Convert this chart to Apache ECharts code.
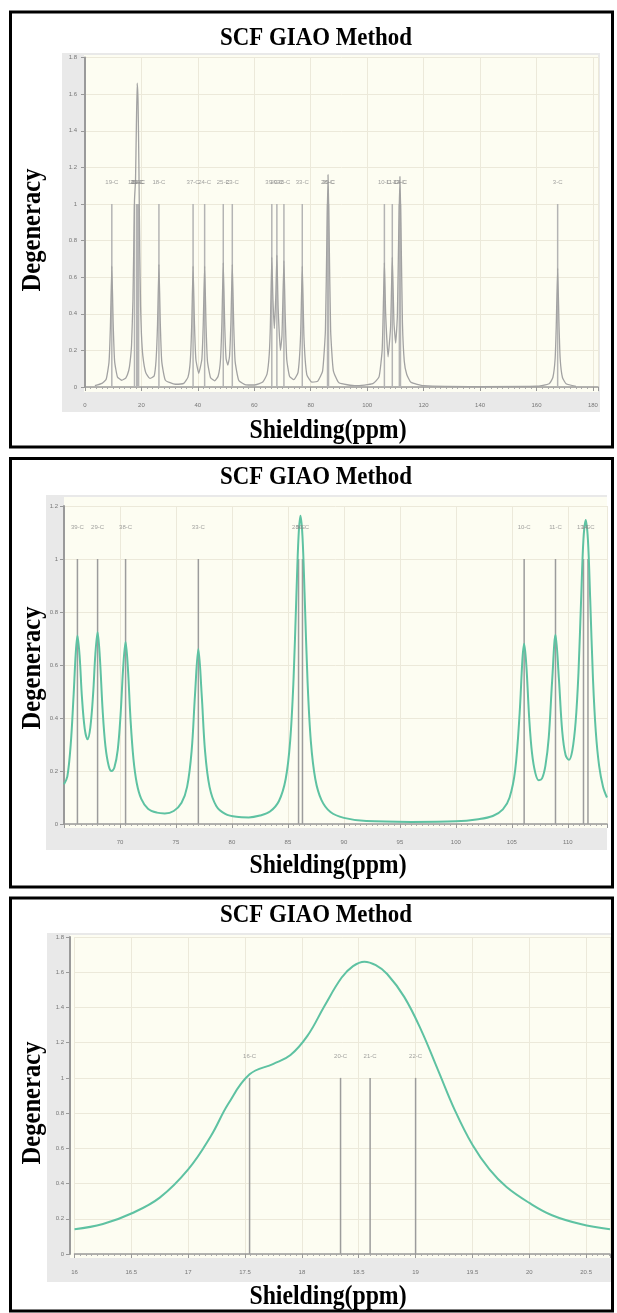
<!DOCTYPE html>
<html>
<head>
<meta charset="utf-8">
<title>SCF GIAO Method</title>
<script src="https://cdn.jsdelivr.net/npm/echarts@6/dist/echarts.min.js"></script>
<style>
  html, body { margin: 0; padding: 0; background: #fff; }
  #chart { width: 617px; height: 1313px; }
</style>
</head>
<body>
<div id="chart"></div>
<script>
// shielding of each carbon (ppm), all with degeneracy 1
const stickPpm = [9.5, 17.54, 18.34, 18.6, 19.0, 26.2, 38.3, 42.4, 49.0, 52.2, 66.2, 68.0, 70.5, 77.0, 85.95, 86.3, 106.1, 108.9, 111.4, 111.8, 167.5];
const stickDeg = [1, 1, 1, 1, 1, 1, 1, 1, 1, 1, 1, 1, 1, 1, 1, 1, 1, 1, 1, 1, 1];
const stickLabels = ["19-C", "16-C", "20-C", "21-C", "22-C", "18-C", "37-C", "24-C", "25-C", "23-C", "39-C", "29-C", "38-C", "33-C", "28-C", "30-C", "10-C", "11-C", "13-C", "14-C", "3-C"];

// broadened spectrum [ppm, degeneracy]
const spectrumFull = [[3.5,.007],[6,.02],[7.5,.042],[8.5,.135],[9,.33],[9.5,.66],[10,.34],[10.5,.14],[11.5,.055],[13,.037],[14.5,.05],[15.5,.09],[16,.14],[16.5,.23],[17,.48],[17.54,1.02],[17.9,1.13],[18.2,1.42],[18.5,1.66],[18.8,1.56],[19.1,1.21],[19.4,.74],[19.7,.44],[20,.29],[20.5,.17],[21.5,.08],[23,.047],[24.5,.06],[25.2,.15],[25.7,.34],[26.2,.67],[26.7,.34],[27.2,.14],[28.5,.037],[32,.015],[35,.02],[36.5,.054],[37.3,.14],[37.8,.33],[38.3,.66],[38.8,.34],[39.3,.15],[40.3,.075],[41.4,.15],[41.9,.34],[42.4,.66],[42.9,.335],[43.4,.14],[44.5,.05],[46,.034],[47.2,.06],[48,.145],[48.5,.345],[49,.68],[49.5,.345],[50,.155],[50.6,.12],[51.2,.165],[51.7,.35],[52.2,.67],[52.7,.34],[53.2,.14],[54.5,.036],[57,.012],[60,.011],[63,.027],[64.5,.07],[65.3,.18],[65.7,.34],[66.2,.71],[66.6,.48],[67.1,.32],[67.6,.49],[68,.72],[68.45,.43],[69.25,.2],[69.8,.28],[70.5,.69],[70.95,.39],[71.5,.15],[72.5,.058],[74,.04],[75.5,.08],[76.4,.28],[77,.66],[77.6,.27],[78.6,.068],[80.4,.027],[82.5,.032],[84.2,.087],[85.2,.31],[85.75,.85],[86.12,1.16],[86.5,.85],[87.05,.31],[88,.09],[90,.023],[96,.007],[102,.018],[104.2,.055],[105.3,.2],[105.7,.42],[106.1,.68],[106.55,.4],[107.4,.165],[108.3,.33],[108.9,.71],[109.5,.35],[110.1,.24],[110.7,.39],[111.2,.86],[111.6,1.15],[112,.85],[112.5,.35],[113.15,.14],[114,.07],[115.5,.026],[120,.007],[140,.002],[160,.004],[164.5,.018],[165.8,.052],[166.6,.153],[167,.33],[167.5,.65],[168,.33],[168.4,.153],[169.2,.052],[170.5,.018],[174,.004]];

const spectrumMid = [[65,.15],[65.3,.18],[65.6,.3],[65.85,.48],[66.05,.645],[66.2,.71],[66.4,.63],[66.6,.48],[66.85,.36],[67.1,.32],[67.35,.364],[67.6,.49],[67.8,.64],[68,.724],[68.2,.63],[68.45,.43],[68.7,.294],[69,.218],[69.25,.2],[69.5,.213],[69.8,.28],[70.05,.41],[70.3,.6],[70.5,.687],[70.7,.593],[70.95,.389],[71.2,.247],[71.5,.154],[71.9,.095],[72.5,.058],[73.3,.043],[74,.04],[74.8,.049],[75.5,.08],[76,.141],[76.4,.276],[76.7,.487],[77,.66],[77.3,.487],[77.6,.274],[78,.14],[78.6,.068],[79.4,.038],[80.4,.027],[81.5,.025],[82.5,.032],[83.4,.047],[84.2,.087],[84.8,.17],[85.2,.313],[85.5,.544],[85.75,.854],[85.95,1.086],[86.12,1.163],[86.3,1.086],[86.5,.854],[86.75,.542],[87.05,.311],[87.45,.169],[88,.09],[88.8,.045],[90,.023],[92,.011],[96,.008],[100,.01],[102,.018],[103.3,.03],[104.2,.055],[104.8,.1],[105.3,.204],[105.7,.42],[105.95,.624],[106.1,.68],[106.3,.595],[106.55,.4],[106.8,.268],[107.1,.192],[107.4,.165],[107.7,.172],[108,.22],[108.3,.328],[108.6,.54],[108.9,.714],[109.2,.55],[109.5,.35],[109.8,.26],[110.1,.242],[110.4,.277],[110.7,.386],[110.95,.569],[111.2,.862],[111.4,1.077],[111.6,1.147],[111.8,1.07],[112,.848],[112.25,.545],[112.5,.348],[112.8,.218],[113.15,.14],[113.5,.1]];

const spectrumZoom = [[16,.14],[16.25,.17],[16.5,.23],[16.75,.32],[17,.48],[17.2,.67],[17.35,.85],[17.54,1.02],[17.75,1.08],[17.9,1.13],[18.05,1.24],[18.2,1.41],[18.35,1.57],[18.45,1.635],[18.55,1.66],[18.65,1.64],[18.75,1.59],[18.9,1.46],[19.05,1.27],[19.2,1.04],[19.35,.81],[19.5,.62],[19.65,.48],[19.8,.38],[20,.29],[20.2,.22],[20.45,.17],[20.71,.14]];

const TITLE = "SCF GIAO Method";
const X_NAME = "Shielding(ppm)";
const Y_NAME = "Degeneracy";

// layout of the three stacked panels (pixels)
const panels = [
  { box: [10.5, 12, 602, 435], bg: [62, 53, 538, 359], plot: [84, 55, 514, 337],
    grid: { left: 85, top: 57.6, width: 513, height: 329.4 }, yOff: 2,
    x: { min: 0, max: 181.8, interval: 20 }, yMax: 1.8, data: spectrumFull,
    titleY: 38, xNameY: 431, yNameY: 230, mono: true, smooth: 0.15 },
  { box: [10.5, 458.5, 602, 428.5], bg: [46, 495, 561, 355], plot: [64, 497, 543, 331],
    grid: { left: 64, top: 506, width: 543, height: 318 }, yOff: 0,
    x: { min: 65, max: 113.5, interval: 5 }, yMax: 1.2, data: spectrumMid,
    titleY: 477, xNameY: 866, yNameY: 668, smooth: 0.35 },
  { box: [10.5, 898, 602, 413], bg: [47, 933, 565, 349], plot: [70, 935, 541, 323],
    grid: { left: 74.5, top: 937, width: 535.5, height: 317 }, yOff: 4.5,
    x: { min: 16, max: 20.71, interval: 0.5 }, yMax: 1.8, data: spectrumZoom,
    titleY: 915, xNameY: 1297, yNameY: 1103, smooth: 0.4 }
];

const serif = "'Liberation Serif', 'Times New Roman', serif";
const grids = [], xAxes = [], yAxes = [], series = [], graphics = [];

function caption(text, x, y, size, rot) {
  // bold serif, squeezed a little along the text like the original
  return { type: "text", z: 50, x: x, y: y, rotation: rot || 0, scaleX: 0.88, silent: true,
    style: { text: text, font: "bold " + size + "px " + serif, fill: "#000", textAlign: "center", textVerticalAlign: "middle" } };
}

panels.forEach((p, i) => {
  grids.push(p.grid);
  xAxes.push({
    type: "value", gridIndex: i, min: p.x.min, max: p.x.max, interval: p.x.interval,
    offset: 6,
    axisLine: { lineStyle: { color: "#9a9a9a", width: 1.5 } },
    axisTick: { length: 4, lineStyle: { color: "#999" } },
    minorTick: { show: true, splitNumber: 10, length: 2, lineStyle: { color: "#aaa" } },
    axisLabel: { fontSize: 6, color: "#777", margin: 9, showMinLabel: i !== 1, showMaxLabel: false },
    splitLine: { show: true, lineStyle: { color: "#ece9da", width: 1 } }
  });
  yAxes.push({
    type: "value", gridIndex: i, min: 0, max: p.yMax, interval: 0.2, offset: p.yOff,
    axisLine: { show: true, lineStyle: { color: "#9a9a9a", width: 2 } },
    axisTick: { show: true, length: 4, lineStyle: { color: "#999" } },
    axisLabel: { fontSize: 6, color: "#777", margin: 6 },
    splitLine: { show: true, lineStyle: { color: "#ece9da", width: 1 } }
  });

  const sticks = [], tags = [];
  stickPpm.forEach((x, k) => {
    if (x >= p.x.min && x <= p.x.max) {
      sticks.push([x, stickDeg[k]]);
      tags.push([x, 1.12, stickLabels[k]]);
    }
  });

  series.push({
    type: "bar", xAxisIndex: i, yAxisIndex: i, data: sticks, barWidth: 1.5, z: 2,
    itemStyle: { color: p.mono ? "#b4b4b4" : "#9c9c9c" }, silent: true
  });
  series.push({
    type: "line", xAxisIndex: i, yAxisIndex: i, data: p.data, showSymbol: false, z: 3,
    smooth: p.smooth,
    lineStyle: { color: p.mono ? "#a2a2a2" : "#5ec2a2", width: p.mono ? 1.3 : 2 }
  });
  series.push({
    type: "scatter", xAxisIndex: i, yAxisIndex: i, data: tags, symbolSize: 0, z: 4,
    label: { show: true, position: "inside", fontSize: 6, color: "#888", formatter: q => q.value[2] }
  });

  // panel frame, screenshot backdrop and the bold captions
  graphics.push({ type: "rect", z: -20, silent: true, shape: { x: p.bg[0], y: p.bg[1], width: p.bg[2], height: p.bg[3] }, style: { fill: "#e9e9e9" } });
  graphics.push({ type: "rect", z: -10, silent: true, shape: { x: p.plot[0], y: p.plot[1], width: p.plot[2], height: p.plot[3] }, style: { fill: "#fdfdf2" } });
  graphics.push({ type: "rect", z: 50, silent: true, shape: { x: p.box[0], y: p.box[1], width: p.box[2], height: p.box[3] }, style: { fill: "none", stroke: "#000", lineWidth: 3 } });
  graphics.push(caption(TITLE, 316, p.titleY, 26));
  graphics.push(caption(X_NAME, 328, p.xNameY, 27));
  graphics.push(caption(Y_NAME, 33, p.yNameY, 28, Math.PI / 2));
});

const chart = echarts.init(document.getElementById("chart"));
chart.setOption({
  animation: false,
  backgroundColor: "#fff",
  grid: grids,
  xAxis: xAxes,
  yAxis: yAxes,
  series: series,
  graphic: { elements: graphics }
});
window.onresize = function () {
  chart.resize();
};
</script>
</body>
</html>
